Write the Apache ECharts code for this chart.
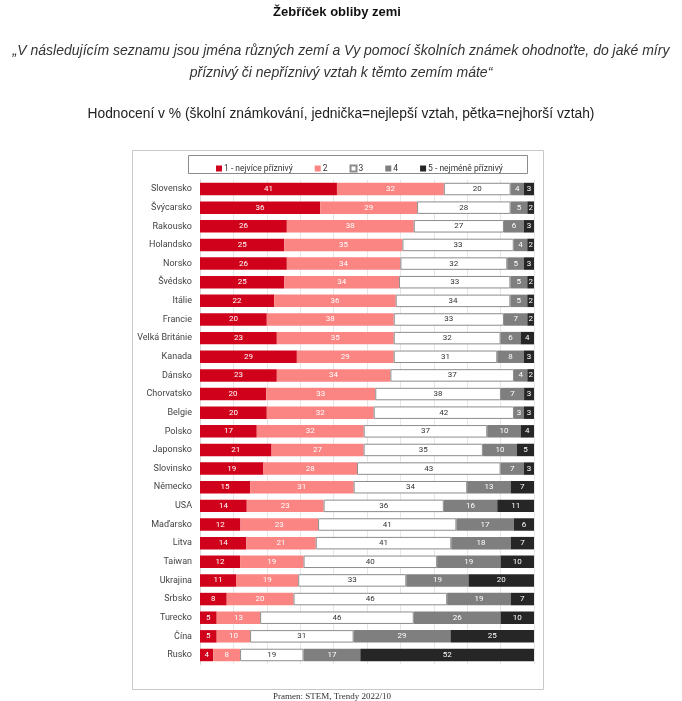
<!DOCTYPE html>
<html>
<head>
<meta charset="utf-8">
<script src="https://cdn.jsdelivr.net/npm/echarts@6/dist/echarts.min.js"></script>
<style>
html,body{margin:0;padding:0;background:#fff;}
#c{width:682px;height:701px;}
</style>
</head>
<body>
<div id="c"></div>
<script>
const categories = ["Slovensko","Švýcarsko","Rakousko","Holandsko","Norsko","Švédsko","Itálie","Francie","Velká Británie","Kanada","Dánsko","Chorvatsko","Belgie","Polsko","Japonsko","Slovinsko","Německo","USA","Maďarsko","Litva","Taiwan","Ukrajina","Srbsko","Turecko","Čína","Rusko"];
const seriesNames = ["1 - nejvíce příznivý","2","3","4","5 - nejméně příznivý"];
const grade1 = [41,36,26,25,26,25,22,20,23,29,23,20,20,17,21,19,15,14,12,14,12,11,8,5,5,4];
const grade2 = [32,29,38,35,34,34,36,38,35,29,34,33,32,32,27,28,31,23,23,21,19,19,20,13,10,8];
const grade3 = [20,28,27,33,32,33,34,33,32,31,37,38,42,37,35,43,34,36,41,41,40,33,46,46,31,19];
const grade4 = [4,5,6,4,5,5,5,7,6,8,4,7,3,10,10,7,13,16,17,18,19,19,19,26,29,17];
const grade5 = [3,2,3,2,3,2,2,2,4,3,2,3,3,4,5,3,7,11,6,7,10,20,7,10,25,52];

const raw = [grade1, grade2, grade3, grade4, grade5];
const colors = ["#d0021b","#fa8583","#ffffff","#7f7f7f","#262626"];
const labelColors = ["#ffffff","#ffffff","#333333","#ffffff","#ffffff"];
const totals = categories.map((c,i)=>raw.reduce((s,a)=>s+a[i],0));

const chart = echarts.init(document.getElementById('c'));
const series = raw.map((arr, k) => ({
  name: seriesNames[k],
  type: 'bar',
  stack: 'all',
  barCategoryGap: '33%',
  data: arr.map((v,i)=>({value: v/totals[i]*100, raw: v})),
  itemStyle: {color: colors[k], borderColor: k===2 ? '#8c8c8c' : colors[k], borderWidth: k===2 ? 1 : 0},
  label: {
    show: true, position: 'inside', fontFamily: 'Roboto', fontSize: 8,
    color: labelColors[k],
    formatter: p => String(p.data.raw)
  },
  emphasis: {disabled: true}
}));

chart.setOption({
  animation: false,
  backgroundColor: '#fff',
  graphic: [
    {type: 'text', x: 337, y: 12, style: {text: 'Žebříček obliby zemi', font: 'bold 13px "Liberation Sans"', fill: '#111', align: 'center', verticalAlign: 'middle'}},
    {type: 'text', x: 341, y: 51, style: {text: '„V následujícím seznamu jsou jména různých zemí a Vy pomocí školních známek ohodnoťte, do jaké míry', font: 'italic 14px "Liberation Sans"', fill: '#333', align: 'center', verticalAlign: 'middle'}},
    {type: 'text', x: 341, y: 73, style: {text: 'příznivý či nepříznivý vztah k těmto zemím máte“', font: 'italic 14px "Liberation Sans"', fill: '#333', align: 'center', verticalAlign: 'middle'}},
    {type: 'text', x: 341, y: 114, style: {text: 'Hodnocení v % (školní známkování, jednička=nejlepší vztah, pětka=nejhorší vztah)', font: '13.8px "Liberation Sans"', fill: '#222', align: 'center', verticalAlign: 'middle'}},
    {type: 'text', x: 332, y: 697, style: {text: 'Pramen: STEM, Trendy 2022/10', font: '9px "Liberation Serif"', fill: '#333', align: 'center', verticalAlign: 'middle'}},
    {type: 'rect', shape: {x: 132.5, y: 150.5, width: 411, height: 539}, style: {fill: 'none', stroke: '#c8c8c8', lineWidth: 1}, z: -1},
    {type: 'rect', shape: {x: 188.5, y: 155.5, width: 339, height: 18}, style: {fill: 'none', stroke: '#8c8c8c', lineWidth: 1}, z: -1}
  ],
  legend: {
    left: 211, top: 159, itemWidth: 6, itemHeight: 6, itemGap: 22,
    icon: 'rect',
    textStyle: {fontFamily: 'Roboto', fontSize: 8.5, color: '#333', padding: [0,0,0,-3]},
    data: seriesNames
  },
  grid: {left: 200, right: 148, top: 179.7, bottom: 36.7, containLabel: false},
  xAxis: {
    type: 'value', min: 0, max: 100, interval: 10,
    axisLabel: {show: false}, axisLine: {show: false}, axisTick: {show: false},
    splitLine: {show: true, lineStyle: {color: '#e6e6e6', width: 1}}
  },
  yAxis: {
    type: 'category', inverse: true, data: categories,
    axisLine: {show: true, lineStyle: {color: '#d9d9d9'}}, axisTick: {show: false},
    axisLabel: {fontFamily: 'Roboto', fontSize: 9, color: '#444', margin: 8}
  },
  series: series
});
</script>
</body>
</html>
